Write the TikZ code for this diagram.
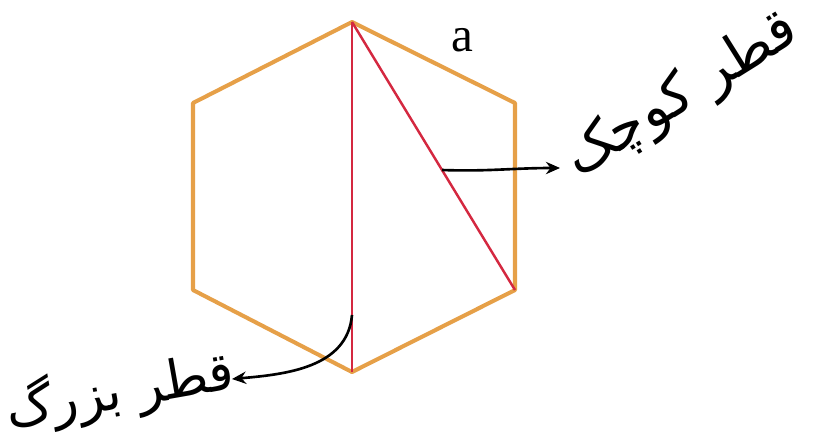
\documentclass[tikz,border=0pt]{standalone}
\usepackage{fontspec}
\setmainfont{Liberation Serif}
\newfontfamily\arabicfont[Script=Arabic]{DejaVu Sans}
\TeXXeTstate=1
\usetikzlibrary{arrows.meta}
\definecolor{hexedge}{RGB}{230,160,72}
\definecolor{diagred}{RGB}{212,40,64}

\begin{document}
\begin{tikzpicture}[x=0.02cm, y=-0.02cm,
    edge/.style={hexedge, line width=2.3pt, line join=round},
    diag/.style={diagred, line width=1.4pt},
    pointer/.style={-{Stealth[length=8pt, width=7pt]}, line width=1.5pt},
    lbl/.style={font=\arabicfont\fontsize{32}{36}\selectfont, inner sep=0pt}
  ]
  \useasboundingbox (0,0) rectangle (813,440);
  % hexagon corners
  \coordinate (top) at (352,22);
  \coordinate (ur)  at (515,103);
  \coordinate (lr)  at (515,290);
  \coordinate (bot) at (352,372);
  \coordinate (ll)  at (193,290);
  \coordinate (ul)  at (193,103);
  \draw[edge] (top) -- (ur) -- (lr) -- (bot) -- (ll) -- (ul) -- cycle;
  % diagonals
  \draw[diag] (top) -- (bot);
  \draw[diag] (top) -- (lr);
  \node[font=\fontsize{28}{28}\selectfont] (side) at (462,40) {a};
  % labels
  \coordinate (smallfrom) at (442,170);
  \coordinate (smalltip)  at (560,168);
  \coordinate (bigfrom)   at (352,315);
  \coordinate (bigtip)    at (232,379);
  \node[lbl, rotate=32, anchor=base west] (small) at (578,178) {\beginR قطر کوچک\endR};
  \node[lbl, font=\arabicfont\fontsize{30}{34}\selectfont, rotate=10, anchor=base east] (big) at (237,388) {\beginR قطر بزرگ\endR};
  \draw[pointer] (smallfrom) to[out=-2, in=180] (smalltip);
  \draw[pointer] (bigfrom) to[out=-95, in=5] (bigtip);
\end{tikzpicture}
\end{document}
